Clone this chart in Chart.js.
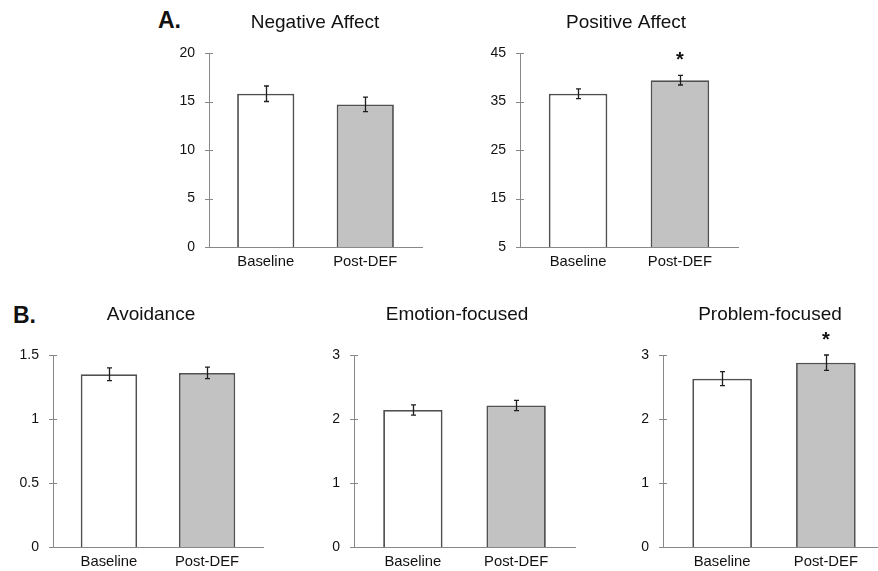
<!DOCTYPE html>
<html>
<head>
<meta charset="utf-8">
<script src="https://cdn.jsdelivr.net/npm/chart.js@4.4.1/dist/chart.umd.min.js"></script>
<style>
  html, body { margin: 0; padding: 0; background: #fff; width: 878px; height: 571px; overflow: hidden; position: relative; }
  body { font-family: "Liberation Sans", Arial, sans-serif; }
  canvas { position: absolute; }
  .tag { position: absolute; font-weight: bold; font-size: 23px; line-height: 23px; color: #111; }
</style>
</head>
<body>
<div class="tag" style="left:158px;top:9px">A.</div>
<div class="tag" style="left:13px;top:304px">B.</div>
<script>
// --- DATA ---
const groups = ['Baseline', 'Post-DEF'];

const negTitle = 'Negative Affect';
const negMean = [15.8, 14.7];
const negErr = [0.8, 0.75];
const negSig = [false, false];
const negTicks = [0, 5, 10, 15, 20];

const posTitle = 'Positive Affect';
const posMean = [36.6, 39.4];
const posErr = [1.0, 1.0];
const posSig = [false, true];
const posTicks = [5, 15, 25, 35, 45];

const avoidTitle = 'Avoidance';
const avoidMean = [1.35, 1.36];
const avoidErr = [0.05, 0.045];
const avoidSig = [false, false];
const avoidTicks = [0, 0.5, 1, 1.5];

const emoTitle = 'Emotion-focused';
const emoMean = [2.14, 2.21];
const emoErr = [0.08, 0.08];
const emoSig = [false, false];
const emoTicks = [0, 1, 2, 3];

const probTitle = 'Problem-focused';
const probMean = [2.63, 2.88];
const probErr = [0.11, 0.12];
const probSig = [false, true];
const probTicks = [0, 1, 2, 3];

// --- LAYOUT (canvas left/top/height, plot area left/top/right/bottom, title centre) ---
const FONT = '"Liberation Sans", Arial, sans-serif';
const barFills = ['#ffffff', '#c2c2c2'];
const xRange = [-0.57, 1.57];

const panels = [
  { title: negTitle,   means: negMean,   errs: negErr,   sig: negSig,   ticks: negTicks,   box: [150, 0, 280],   area: [209, 53, 422, 247],  titleX: 315, titleY: 23 },
  { title: posTitle,   means: posMean,   errs: posErr,   sig: posSig,   ticks: posTicks,   box: [460, 0, 280],   area: [520, 53, 738, 247],  titleX: 626, titleY: 23 },
  { title: avoidTitle, means: avoidMean, errs: avoidErr, sig: avoidSig, ticks: avoidTicks, box: [0, 290, 281],   area: [53, 355, 263, 547],  titleX: 151, titleY: 315 },
  { title: emoTitle,   means: emoMean,   errs: emoErr,   sig: emoSig,   ticks: emoTicks,   box: [300, 290, 281], area: [354, 355, 575, 547], titleX: 457, titleY: 315 },
  { title: probTitle,  means: probMean,  errs: probErr,  sig: probSig,  ticks: probTicks,  box: [610, 290, 281], area: [663, 355, 885, 547], titleX: 770, titleY: 315 }
];

// error bars, significance stars and cross ticks on the y axis
const errorBarPlugin = {
  id: 'errorBars',
  afterDatasetsDraw(chart, args, opts) {
    const ctx = chart.ctx;
    const y = chart.scales.y;
    const meta = chart.getDatasetMeta(0);
    ctx.save();
    ctx.strokeStyle = '#1e1e1e';
    ctx.lineWidth = 1.3;
    meta.data.forEach((bar, i) => {
      const v = opts.means[i];
      const top = y.getPixelForValue(v + opts.errs[i]);
      const bot = y.getPixelForValue(v - opts.errs[i]);
      const x = Math.round(bar.x) + 0.5;
      ctx.beginPath();
      ctx.moveTo(x, top); ctx.lineTo(x, bot);
      ctx.moveTo(x - 2.5, top); ctx.lineTo(x + 2.5, top);
      ctx.moveTo(x - 2.5, bot); ctx.lineTo(x + 2.5, bot);
      ctx.stroke();
      if (opts.sig[i]) {
        ctx.fillStyle = '#111';
        ctx.font = 'bold 20px ' + FONT;
        ctx.textAlign = 'center';
        ctx.textBaseline = 'alphabetic';
        ctx.fillText('*', bar.x, top - 9.5);
      }
    });
    ctx.restore();
  },
  afterDraw(chart) {
    const ctx = chart.ctx;
    const y = chart.scales.y;
    const x0 = chart.chartArea.left;
    ctx.save();
    ctx.strokeStyle = '#888';
    ctx.lineWidth = 1;
    y.ticks.forEach(t => {
      const py = Math.round(y.getPixelForValue(t.value)) + 0.5;
      ctx.beginPath();
      ctx.moveTo(x0 - 4, py); ctx.lineTo(x0 + 4, py);
      ctx.stroke();
    });
    ctx.restore();
  }
};

function buildPanel(p) {
  const [cl, ct, ch] = p.box;
  const [al, at, ar, ab] = p.area;
  // the title spans the whole canvas, so the canvas is made symmetric round titleX;
  // an empty right-hand axis takes up the room past the plot
  const cw = 2 * (p.titleX - cl);
  const spacer = (cl + cw) - ar;
  const yW = al - cl;
  const xH = (ct + ch) - ab;
  const titleH = 19 * 1.2;
  const tPadTop = (p.titleY - ct) - titleH / 2;
  const tPadBottom = (at - ct) - tPadTop - titleH;

  const cv = document.createElement('canvas');
  cv.width = cw; cv.height = ch;
  cv.style.left = cl + 'px'; cv.style.top = ct + 'px';
  document.body.appendChild(cv);

  new Chart(cv, {
    type: 'bar',
    data: {
      datasets: [{
        data: p.means.map((v, i) => ({ x: i, y: v })),
        backgroundColor: barFills,
        borderColor: '#505050',
        borderWidth: 1.8,
        base: p.ticks[0],
        barPercentage: 0.575,
        categoryPercentage: 1,
        yAxisID: 'y'
      }]
    },
    options: {
      responsive: false,
      animation: false,
      layout: { padding: 0 },
      plugins: {
        legend: { display: false },
        tooltip: { enabled: false },
        title: {
          display: true,
          text: p.title,
          color: '#111',
          font: { family: FONT, size: 19, weight: 'normal', lineHeight: 1.2 },
          padding: { top: tPadTop, bottom: tPadBottom }
        },
        errorBars: { means: p.means, errs: p.errs, sig: p.sig }
      },
      scales: {
        x: {
          type: 'linear',
          offset: false,
          min: xRange[0],
          max: xRange[1],
          grid: { display: false, drawTicks: false },
          border: { display: true, color: '#888', width: 1 },
          ticks: { color: '#111', font: { family: FONT, size: 14.8 }, padding: 6, maxRotation: 0, autoSkip: false, callback: v => groups[v] },
          afterBuildTicks: s => { s.ticks = groups.map((g, i) => ({ value: i })); },
          afterFit: s => { s.height = xH; }
        },
        y: {
          min: p.ticks[0],
          max: p.ticks[p.ticks.length - 1],
          grid: { display: false, drawTicks: false },
          border: { display: true, color: '#888', width: 1 },
          ticks: { color: '#111', font: { family: FONT, size: 14 }, padding: 14, callback: v => String(v) },
          afterBuildTicks: s => { s.ticks = p.ticks.map(v => ({ value: v })); },
          afterFit: s => { s.width = yW; }
        },
        pad: {
          type: 'linear',
          position: 'right',
          grid: { display: false, drawTicks: false },
          border: { display: false },
          ticks: { display: false },
          afterFit: s => { s.width = spacer; }
        }
      }
    },
    plugins: [errorBarPlugin]
  });
}

panels.forEach(buildPanel);
</script>
</body>
</html>
